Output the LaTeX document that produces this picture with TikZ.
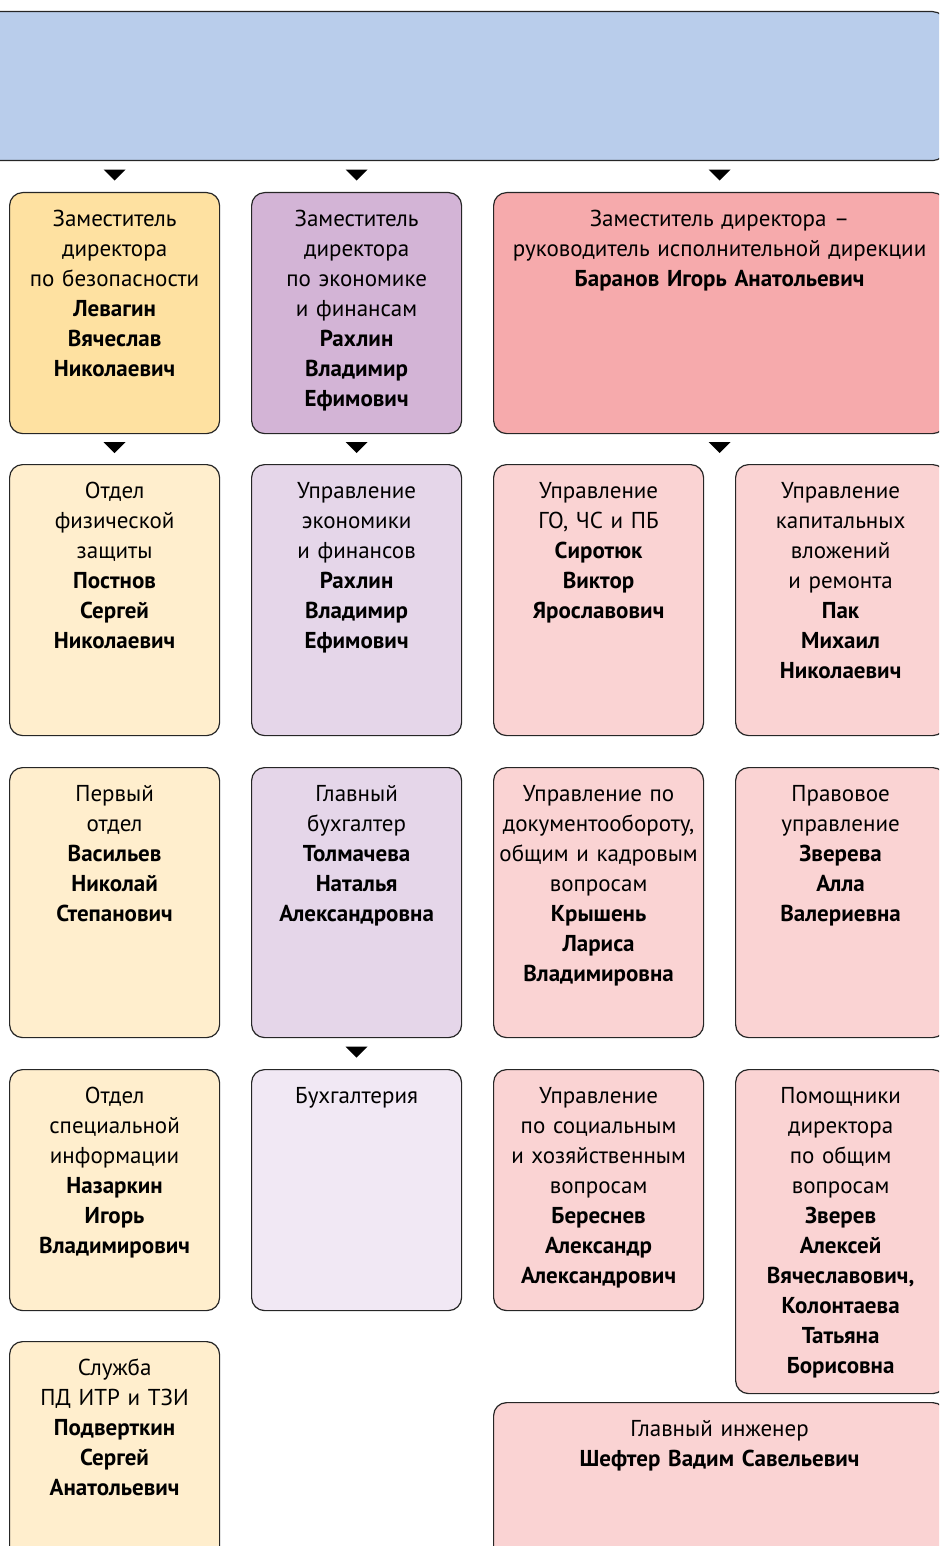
\documentclass[tikz,border=0pt]{standalone}
\usepackage{fontspec}
\setmainfont{PT Sans}
\usetikzlibrary{positioning,calc}
\definecolor{chiefblue}{RGB}{185,205,235}
\definecolor{safeyellow}{RGB}{254,225,161}
\definecolor{safelight}{RGB}{255,238,205}
\definecolor{econpurple}{RGB}{211,180,214}
\definecolor{econlight}{RGB}{229,214,233}
\definecolor{econpale}{RGB}{241,232,244}
\definecolor{execred}{RGB}{246,170,172}
\definecolor{execlight}{RGB}{250,211,211}
\tikzset{
	unit/.style={draw=black!85, line width=1.2pt, rounded corners=13pt, minimum width=210pt, anchor=north west, inner sep=0pt},
	wideunit/.style={unit, minimum width=452pt},
	caption/.style={inner sep=0pt, text width=208pt, align=center, font=\fontsize{23}{30}\selectfont},
	widecaption/.style={caption, text width=440pt},
	pointer/.style={to path={($(\tikztostart)!0.5!(\tikztotarget)$) ++(-11,-7) -- ++(22,0) -- ++(-11,11) -- cycle}},
}
\begin{document}
\begin{tikzpicture}[x=1pt,y=-1pt]
	\clip (0,0) rectangle (939,1546);
	% director
	\node[unit, fill=chiefblue, minimum width=965pt, minimum height=149pt] (dir) at (-20,11) {};
	% deputies
	\node[unit, fill=safeyellow, minimum height=241pt] (safe) at (9,192) {};
	\node[unit, fill=econpurple, minimum height=241pt] (econ) at (251,192) {};
	\node[wideunit, fill=execred, minimum height=241pt] (exec) at (493,192) {};
	\node[caption, below=13pt of safe.north] (safe-t) {\strut Заместитель\\директора\\по безопасности\\\textbf{Левагин}\\\textbf{Вячеслав}\\\textbf{Николаевич}};
	\node[caption, below=13pt of econ.north] (econ-t) {\strut Заместитель\\директора\\по экономике\\и финансам\\\textbf{Рахлин}\\\textbf{Владимир}\\\textbf{Ефимович}};
	\node[widecaption, below=13pt of exec.north] (exec-t) {\strut Заместитель директора –\\руководитель исполнительной дирекции\\\textbf{Баранов Игорь Анатольевич}};
	% second row
	\node[unit, fill=safelight, minimum height=271pt] (phys) at (9,464) {};
	\node[unit, fill=econlight, minimum height=271pt] (fin) at (251,464) {};
	\node[unit, fill=execlight, minimum height=271pt] (civil) at (493,464) {};
	\node[unit, fill=execlight, minimum height=271pt] (capital) at (735,464) {};
	\node[caption, below=13pt of phys.north] (phys-t) {\strut Отдел\\физической\\защиты\\\textbf{Постнов}\\\textbf{Сергей}\\\textbf{Николаевич}};
	\node[caption, below=13pt of fin.north] (fin-t) {\strut Управление\\экономики\\и финансов\\\textbf{Рахлин}\\\textbf{Владимир}\\\textbf{Ефимович}};
	\node[caption, below=13pt of civil.north] (civil-t) {\strut Управление\\ГО, ЧС и ПБ\\\textbf{Сиротюк}\\\textbf{Виктор}\\\textbf{Ярославович}};
	\node[caption, below=13pt of capital.north] (capital-t) {\strut Управление\\капитальных\\вложений\\и ремонта\\\textbf{Пак}\\\textbf{Михаил}\\\textbf{Николаевич}};
	% third row
	\node[unit, fill=safelight, minimum height=270pt] (first) at (9,767) {};
	\node[unit, fill=econlight, minimum height=270pt] (acct) at (251,767) {};
	\node[unit, fill=execlight, minimum height=270pt] (docs) at (493,767) {};
	\node[unit, fill=execlight, minimum height=270pt] (legal) at (735,767) {};
	\node[caption, below=13pt of first.north] (first-t) {\strut Первый\\отдел\\\textbf{Васильев}\\\textbf{Николай}\\\textbf{Степанович}};
	\node[caption, below=13pt of acct.north] (acct-t) {\strut Главный\\бухгалтер\\\textbf{Толмачева}\\\textbf{Наталья}\\\textbf{Александровна}};
	\node[caption, below=13pt of docs.north] (docs-t) {\strut Управление по\\документообороту,\\общим и кадровым\\вопросам\\\textbf{Крышень}\\\textbf{Лариса}\\\textbf{Владимировна}};
	\node[caption, below=13pt of legal.north] (legal-t) {\strut Правовое\\управление\\\textbf{Зверева}\\\textbf{Алла}\\\textbf{Валериевна}};
	% fourth row
	\node[unit, fill=safelight, minimum height=241pt] (special) at (9,1069) {};
	\node[unit, fill=econpale, minimum height=241pt] (books) at (251,1069) {};
	\node[unit, fill=execlight, minimum height=241pt] (social) at (493,1069) {};
	\node[unit, fill=execlight, minimum height=324pt] (aides) at (735,1069) {};
	\node[caption, below=13pt of special.north] (special-t) {\strut Отдел\\специальной\\информации\\\textbf{Назаркин}\\\textbf{Игорь}\\\textbf{Владимирович}};
	\node[caption, below=13pt of books.north] (books-t) {\strut Бухгалтерия};
	\node[caption, below=13pt of social.north] (social-t) {\strut Управление\\по социальным\\и хозяйственным\\вопросам\\\textbf{Береснев}\\\textbf{Александр}\\\textbf{Александрович}};
	\node[caption, below=13pt of aides.north] (aides-t) {\strut Помощники\\директора\\по общим\\вопросам\\\textbf{Зверев}\\\textbf{Алексей}\\\textbf{Вячеславович,}\\\textbf{Колонтаева}\\\textbf{Татьяна}\\\textbf{Борисовна}};
	% fifth row
	\node[unit, fill=safelight, minimum height=230pt] (secure) at (9,1341) {};
	\node[wideunit, fill=execlight, minimum height=200pt] (engineer) at (493,1402) {};
	\node[caption, below=13pt of secure.north] (secure-t) {\strut Служба\\ПД ИТР и ТЗИ\\\textbf{Подверткин}\\\textbf{Сергей}\\\textbf{Анатольевич}};
	\node[widecaption, below=13pt of engineer.north] (engineer-t) {\strut Главный инженер\\\textbf{Шефтер Вадим Савельевич}};
	% pointers
	\fill[pointer] (dir.south -| safe.north) to (safe.north);
	\fill[pointer] (dir.south -| econ.north) to (econ.north);
	\fill[pointer] (dir.south -| exec.north) to (exec.north);
	\fill[pointer] (safe.south) to (phys.north);
	\fill[pointer] (econ.south) to (fin.north);
	\fill[pointer] (exec.south) to (exec.south |- civil.north);
	\fill[pointer] (acct.south) to (books.north);
\end{tikzpicture}
\end{document}
